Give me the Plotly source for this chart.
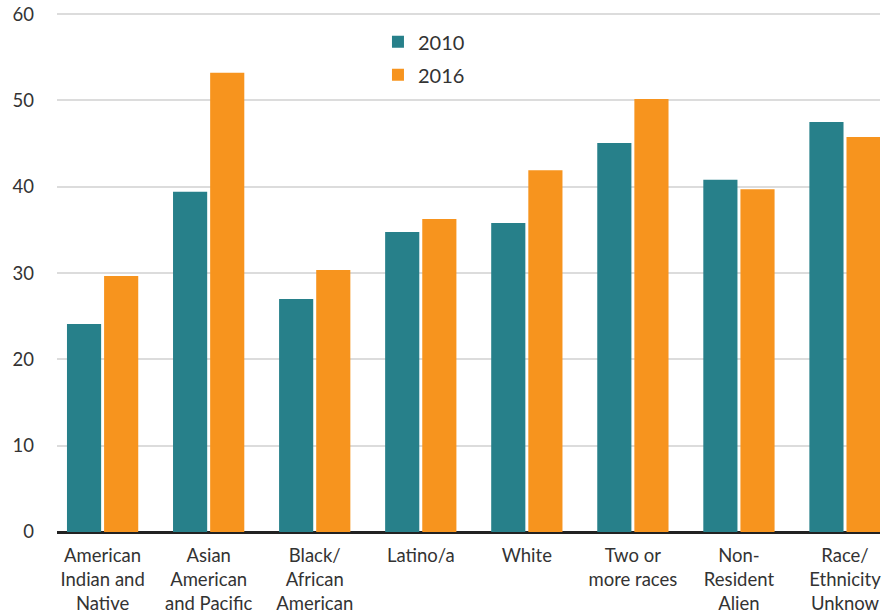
import plotly.graph_objects as go

categories = [
    "American<br>Indian and<br>Native",
    "Asian<br>American<br>and Pacific",
    "Black/<br>African<br>American",
    "Latino/a",
    "White",
    "Two or<br>more races",
    "Non-<br>Resident<br>Alien",
    "Race/<br>Ethnicity<br>Unknow",
]
values_2010 = [24.1, 39.4, 27.0, 34.75, 35.8, 45.05, 40.8, 47.5]
values_2016 = [29.65, 53.2, 30.35, 36.25, 41.9, 50.15, 39.7, 45.75]
y_ticks = [0, 10, 20, 30, 40, 50, 60]

TEAL = "#27808a"
ORANGE = "#f7941e"

fig = go.Figure()
fig.add_trace(go.Bar(x=categories, y=values_2010, name="2010", marker_color=TEAL,
                     marker_line_width=0, legendgroup="a"))
fig.add_trace(go.Bar(x=categories, y=values_2016, name="2016", marker_color=ORANGE,
                     marker_line_width=0, legendgroup="b"))

fig.update_layout(
    width=893, height=614,
    margin=dict(l=57, r=13, t=13, b=82),
    paper_bgcolor="white", plot_bgcolor="white",
    font=dict(family="Lato, 'Open Sans', sans-serif", color="#333333", size=18),
    barmode="group", bargap=0.30, bargroupgap=0.08,
    showlegend=True,
    legend=dict(x=0.39, y=0.982, xanchor="left", yanchor="top",
                font=dict(size=20, color="#333333"), bgcolor="rgba(0,0,0,0)",
                itemwidth=30, traceorder="grouped", tracegroupgap=4),
    xaxis=dict(type="category", range=[-0.43, 7.33], showgrid=False, showline=False,
               ticks="", tickfont=dict(size=18.5, color="#333333"), automargin=False,
               tickangle=0, ticklabelstandoff=10),
    yaxis=dict(range=[0, 60.12], tickvals=y_ticks, showgrid=True, gridcolor="#dcdcdc",
               gridwidth=2, zeroline=True, zerolinecolor="#222222", zerolinewidth=3,
               showline=False, ticks="", tickfont=dict(size=18.5, color="#333333"),
               ticklabelstandoff=22, automargin=False),
)

fig.write_html(
    "out.html",
    config={"displayModeBar": False},
    post_script="document.body.style.margin='0';document.body.style.overflow='hidden';",
)
